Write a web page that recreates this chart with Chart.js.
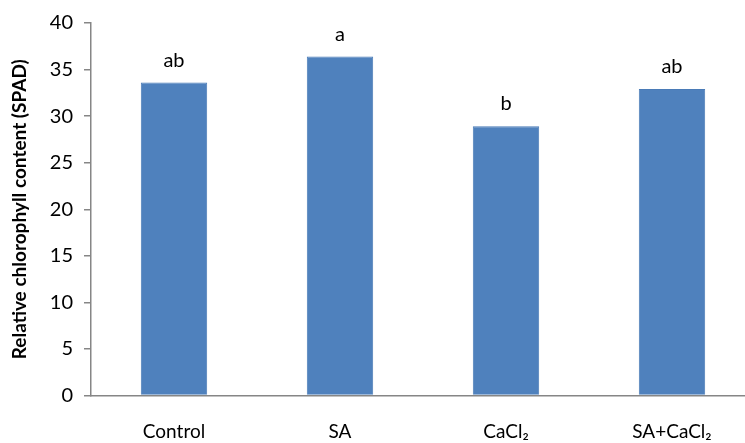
<!DOCTYPE html>
<html>
<head>
<meta charset="utf-8">
<script src="https://cdn.jsdelivr.net/npm/chart.js@4"></script>
<style>
  html, body { margin: 0; padding: 0; background: #fff; overflow: hidden; }
  #wrap { width: 755px; height: 443px; }
</style>
</head>
<body>
<div id="wrap"><canvas id="chart"></canvas></div>
<script>
// data
const categories = ['Control', 'SA', 'CaCl\u2082', 'SA+CaCl\u2082'];
const spadValues = [33.6, 36.4, 28.9, 32.9];
const letters = ['ab', 'a', 'b', 'ab'];
const yTicks = [0, 5, 10, 15, 20, 25, 30, 35, 40];

const FONT = 'Lato, Carlito, Calibri, "Open Sans", sans-serif';
const AXIS_GREY = '#868686';

// letters above each bar
const letterPlugin = {
  id: 'letters',
  afterDatasetsDraw(chart) {
    const ctx = chart.ctx;
    const meta = chart.getDatasetMeta(0);
    ctx.save();
    ctx.font = '20px ' + FONT;
    ctx.fillStyle = '#000';
    ctx.textAlign = 'center';
    ctx.textBaseline = 'alphabetic';
    meta.data.forEach((bar, i) => {
      ctx.fillText(letters[i], bar.x, bar.y - 16);
    });
    ctx.restore();
  }
};

const ctx = document.getElementById('chart');
new Chart(ctx, {
  type: 'bar',
  data: {
    labels: categories,
    datasets: [{
      data: spadValues,
      backgroundColor: '#4f81bd',
      borderColor: '#4a7bb7',
      borderWidth: 1,
      barPercentage: 0.4,
      categoryPercentage: 1.0
    }]
  },
  options: {
    responsive: true,
    maintainAspectRatio: false,
    animation: false,
    layout: { padding: { top: 6, right: 0, left: 0, bottom: 0 } },
    plugins: {
      legend: { display: false },
      tooltip: { enabled: false }
    },
    scales: {
      x: {
        grid: { display: false },
        border: { display: true, color: AXIS_GREY, width: 1.5 },
        ticks: {
          color: '#000',
          font: { family: FONT, size: 19 },
          padding: 17,
          maxRotation: 0
        },
        afterFit(scale) { scale.height = 47.5; }
      },
      y: {
        min: 0,
        max: 40,
        afterBuildTicks(scale) { scale.ticks = yTicks.map(v => ({ value: v })); },
        grid: {
          drawOnChartArea: false,
          drawTicks: true,
          tickLength: 7,
          color: AXIS_GREY,
          lineWidth: 1.5
        },
        border: { display: true, color: AXIS_GREY, width: 1.5 },
        ticks: {
          color: '#000',
          font: { family: FONT, size: 20 },
          padding: 11
        },
        title: {
          display: true,
          text: 'Relative chlorophyll content (SPAD)',
          color: '#000',
          font: { family: FONT, size: 19, weight: 'bold' },
          padding: { top: 8, bottom: 0 }
        },
        afterFit(scale) { scale.width = 91; }
      }
    }
  },
  plugins: [letterPlugin]
});
</script>
</body>
</html>
